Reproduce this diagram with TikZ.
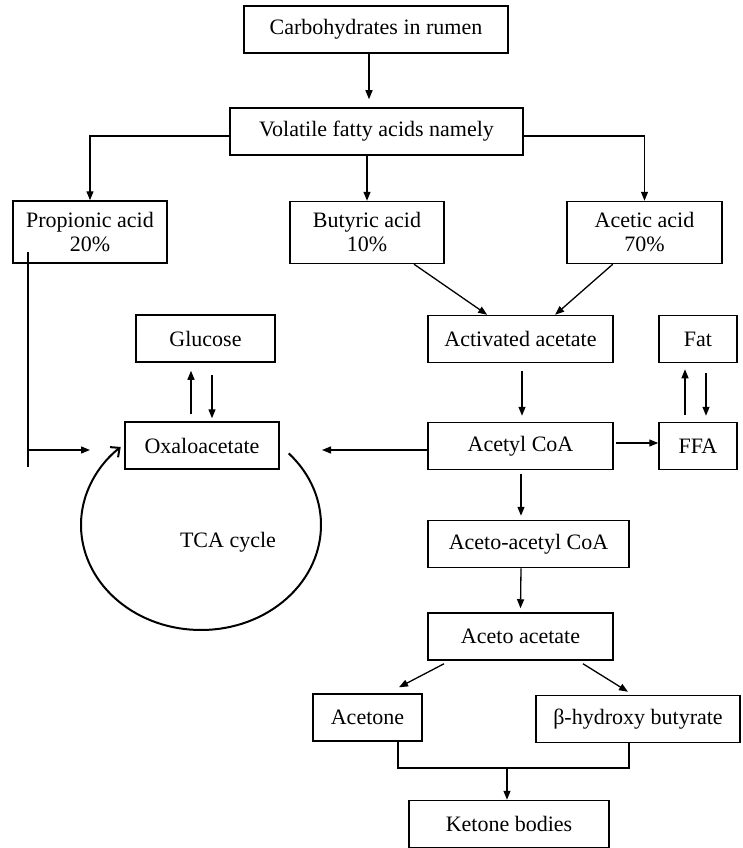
\documentclass[tikz,border=0pt]{standalone}
\usepackage{fontspec}
\setmainfont{Liberation Serif}
\usepackage{tikz}
\usetikzlibrary{arrows.meta, calc}
\tikzset{>={Triangle[length=9pt,width=7pt]}}

\begin{document}
\begin{tikzpicture}[x=1pt, y=-1pt, line width=1.3pt,
    box/.style={draw, line width=1.5pt, inner sep=0pt, align=center,
      minimum height=47pt, font=\fontsize{22}{24}\selectfont},
    tall/.style={box, minimum height=62pt}]
      \useasboundingbox (0,0) rectangle (742,848);
      % boxes
      \node[box, minimum width=264pt] (carb) at (376, 29.5) {Carbohydrates in rumen};
      \node[box, minimum width=293pt] (vfa) at (376.5, 131.5) {Volatile fatty acids namely};
      \node[tall, minimum width=154pt] (prop) at (90, 232) {Propionic acid\\20\%};
      \node[tall, minimum width=154pt] (buty) at (367, 232.5) {Butyric acid\\10\%};
      \node[tall, minimum width=155pt] (acet) at (644.5, 232.5) {Acetic acid\\70\%};
      \node[box, minimum width=139pt] (gluc) at (205.5, 338.5) {Glucose};
      \node[box, minimum width=154pt] (oxa) at (202, 445.5) {Oxaloacetate};
      \node[box, minimum width=185pt] (actv) at (520.5, 339) {Activated acetate};
      \node[box, minimum width=78pt] (fat) at (698, 339) {Fat};
      \node[box, minimum width=185pt] (acoa) at (520.5, 446) {Acetyl CoA};
      \node[box, minimum width=78pt] (ffa) at (698, 446) {FFA};
      \node[box, minimum width=201pt] (aacoa) at (528.5, 544) {Aceto-acetyl CoA};
      \node[box, minimum width=185pt] (aac) at (520.5, 636.5) {Aceto acetate};
      \node[box, minimum width=109pt] (acetone) at (367.5, 717.5) {Acetone};
      \node[box, minimum width=204pt] (bhb) at (638, 719) {β-hydroxy butyrate};
      \node[box, minimum width=200pt] (ket) at (509, 824) {Ketone bodies};
      \node[font=\fontsize{22}{24}\selectfont] (tca) at (228, 542) {TCA cycle};
      % free ends
      \coordinate (pv) at (28, 252);
      \coordinate (pb) at (28, 467);
      \coordinate (pin) at (28, 450);
      \coordinate (ptip) at (90, 450);
      \coordinate (otip) at (322, 450);
      \coordinate (kj) at (507, 768);
      \coordinate (tcac) at (201, 525);
      % top part
      \draw[->] ([xshift=-7pt]carb.south) -- ([xshift=-7.5pt,yshift=8pt]vfa.north);
      \draw[->] ([yshift=-4.5pt]vfa.west) -| (prop.north);
      \draw[->] ([yshift=-4.5pt]vfa.east) -| (acet.north);
      \draw[->] (vfa.south -| buty.north) -- (buty.north);
      \draw[->] (buty.-34) -- (actv.144);
      \draw[->] (acet.225) -- (actv.35);
      % propionic acid to oxaloacetate
      \draw (pv) -- (pb);
      \draw[->] (pin) -- (ptip);
      \draw[->] ([xshift=-11pt,yshift=7pt]oxa.north) -- ([xshift=-14.5pt,yshift=-8pt]gluc.south);
      \draw[->] ([xshift=6.5pt,yshift=-12pt]gluc.south) -- ([xshift=10pt,yshift=3pt]oxa.north);
      % acetate side
      \draw[->] ([xshift=1.5pt,yshift=-8pt]actv.south) -- ([xshift=1.5pt,yshift=6pt]acoa.north);
      \draw[->] ([yshift=-4pt]acoa.west) -- (otip);
      \draw[->] ([xshift=2pt,yshift=3pt]acoa.east) -- ([yshift=3pt]ffa.west);
      \draw[->] ([xshift=-13pt,yshift=7pt]ffa.north) -- ([xshift=-13pt,yshift=-6pt]fat.south);
      \draw[->] ([xshift=8pt,yshift=-10pt]fat.south) -- ([xshift=8pt,yshift=6pt]ffa.north);
      \draw[->] ([xshift=0.5pt,yshift=-4pt]acoa.south) -- ([xshift=-7.5pt,yshift=4pt]aacoa.north);
      \draw[->] ([xshift=-7.5pt]aacoa.south) -- ([yshift=4pt]aac.north);
      \draw[->] ([xshift=-76.5pt,yshift=-3pt]aac.south) -- ([xshift=31.5pt,yshift=6pt]acetone.north);
      \draw[->] ([xshift=62.5pt,yshift=-3pt]aac.south) -- ([xshift=-10pt,yshift=3pt]bhb.north);
      \draw ([xshift=30.5pt]acetone.south) |- (kj) -| ([xshift=-9pt]bhb.south);
      \draw[->] (kj) -- (kj |- ket.north);
      % TCA cycle
      \draw[line width=2pt, -{Straight Barb[length=7pt,width=13pt]}] (tcac) ++(-43:120 and 105)
        arc[start angle=-43, end angle=228, x radius=120, y radius=105];
    \end{tikzpicture}
\end{document}
